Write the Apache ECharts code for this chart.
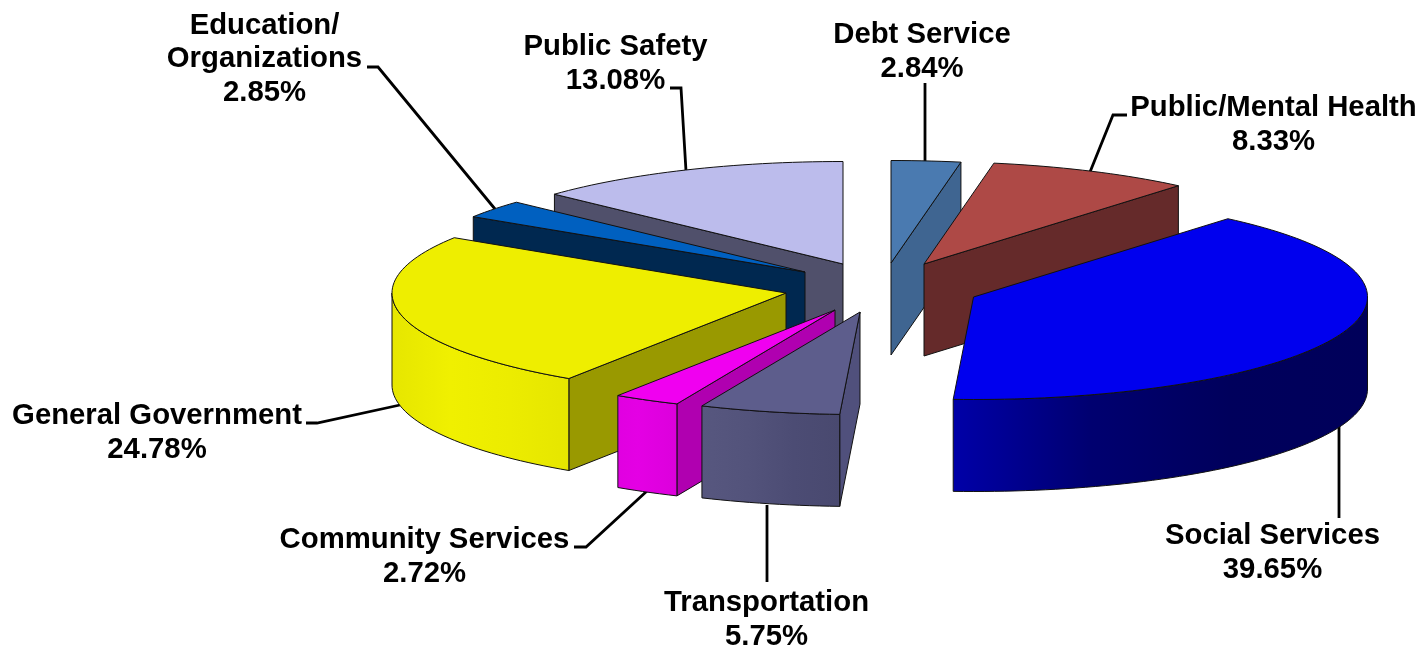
<!DOCTYPE html>
<html>
<head>
<meta charset="utf-8">
<style>html,body{margin:0;padding:0;background:#fff}#c{width:1419px;height:648px}</style>
<script src="https://cdn.jsdelivr.net/npm/echarts@6/dist/echarts.min.js"></script>
</head>
<body>
<div id="c"></div>
<script>
// ---- data ----
var categories = ['Debt Service', 'Public/Mental Health', 'Social Services', 'Transportation',
  'Community Services', 'General Government', 'Education/\nOrganizations', 'Public Safety'];
var shares = [2.84, 8.33, 39.65, 5.75, 2.72, 24.78, 2.85, 13.08];

// ---- layout and style (not data) ----
var RX = 394, RY = 102.5, DEPTH = 92;
var sliceCentres = [[891,263],[924,264],[973.5,297],[860,312],[835,310],[786,293],[805,272],[843,264]];
var paintRank = [0, 4, 5, 7, 6, 3, 2, 1];
var topColors = ['#4A7AB0', '#AE4946', '#0000EE', '#5D5D8C', '#F000F0', '#EEEE00', '#0060C0', '#BCBCEC'];
var cutColors = ['#3F6591', '#652A2A', '#00006A', '#50507C', '#B000B0', '#999900', '#002850', '#50506B'];
var wallStops = [
  ['#3F6591', '#3F6591'], ['#652A2A', '#652A2A'],
  ['#00005A', '#00005C', '#000070', '#0000A8'],
  ['#49496F', '#4C4C74', '#53537B', '#57577F'],
  ['#DC00DC', '#E000E0', '#E400E4', '#E000E0'],
  ['#E6E600', '#ECEC00', '#F0F000', '#E6E600'],
  ['#002850', '#002850'], ['#50506B', '#50506B']
];
var labelCentres = [[922,52],[1273.5,125],[1272.5,553],[766.5,620],[424.5,557],[157,433],[264.5,59],[615.5,64]];
var leaderPaths = [
  [[925,83],[925,162]],
  [[1127,115],[1113,115],[1090,172]],
  [[1339,518],[1339,425]],
  [[767,582],[767,505]],
  [[574,547],[586,547],[647,491]],
  [[306,423],[317,423],[400,405]],
  [[367,67],[378,67],[495,209]],
  [[670,88],[681,88],[686,171]]
];
var LABEL_FONT = 'bold 29.3px "Liberation Sans", Arial, sans-serif';
var LABEL_LINE = 33.5;

var total = shares.reduce(function (a, b) { return a + b; }, 0);
var startAngles = [];
shares.reduce(function (acc, v, i) { startAngles[i] = acc; return acc + v / total * 360; }, 0);

function rim(c, deg, drop) {
  var r = deg * Math.PI / 180;
  return [c[0] + RX * Math.sin(r), c[1] - RY * Math.cos(r) + (drop || 0)];
}
function arcPoints(c, a0, a1, drop) {
  var pts = [], n = Math.max(2, Math.ceil((a1 - a0) / 1.5));
  for (var i = 0; i <= n; i++) pts.push(rim(c, a0 + (a1 - a0) * i / n, drop));
  return pts;
}
function poly(points, fill, z2) {
  return {
    type: 'polygon', z2: z2, silent: true,
    shape: { points: points },
    style: { fill: fill, stroke: '#111', lineWidth: 1, lineJoin: 'round' }
  };
}
function wallFill(i) {
  var s = wallStops[i];
  return {
    type: 'linear', x: 0, y: 0, x2: 1, y2: 0,
    colorStops: s.slice().reverse().map(function (col, k) {
      return { offset: k / (s.length - 1), color: col };
    })
  };
}

function renderSlice(params, api) {
  var i = params.dataIndex;
  var sweep = api.value(0) / total * 360;
  var a0 = startAngles[i], a1 = a0 + sweep;
  var c = sliceCentres[i], base = paintRank[i] * 10 + 10;
  var low = [c[0], c[1] + DEPTH];
  var kids = [];

  // leader line, below every slice
  kids.push({
    type: 'polyline', z2: 1, silent: true,
    shape: { points: leaderPaths[i] },
    style: { fill: null, stroke: '#000', lineWidth: 2.8 }
  });
  // cut faces that look towards the viewer
  if (Math.sin(a0 * Math.PI / 180) < -1e-6) {
    var p0 = rim(c, a0);
    kids.push(poly([c, p0, [p0[0], p0[1] + DEPTH], low], cutColors[i], base));
  }
  if (Math.sin(a1 * Math.PI / 180) > 1e-6) {
    var p1 = rim(c, a1);
    kids.push(poly([c, p1, [p1[0], p1[1] + DEPTH], low], cutColors[i], base + 1));
  }
  // outer wall on the front half of the ellipse
  var w0 = Math.max(a0, 90), w1 = Math.min(a1, 270);
  if (w1 > w0) {
    kids.push(poly(arcPoints(c, w0, w1).concat(arcPoints(c, w0, w1, DEPTH).reverse()), wallFill(i), base + 2));
  }
  // top face
  kids.push(poly([c].concat(arcPoints(c, a0, a1)), topColors[i], base + 3));
  // label
  kids.push({
    type: 'text', z2: 200, silent: true,
    style: {
      x: labelCentres[i][0], y: labelCentres[i][1],
      text: categories[i] + '\n' + api.value(0).toFixed(2) + '%',
      font: LABEL_FONT, lineHeight: LABEL_LINE,
      align: 'center', verticalAlign: 'middle', fill: '#000'
    }
  });
  return { type: 'group', children: kids };
}

var chart = echarts.init(document.getElementById('c'), null, { renderer: 'canvas' });
chart.setOption({
  animation: false,
  backgroundColor: '#fff',
  series: [{
    type: 'custom',
    coordinateSystem: 'none',
    clip: false,
    silent: true,
    renderItem: renderSlice,
    data: shares.map(function (v, i) { return { name: categories[i], value: [v] }; })
  }]
});
</script>
</body>
</html>
